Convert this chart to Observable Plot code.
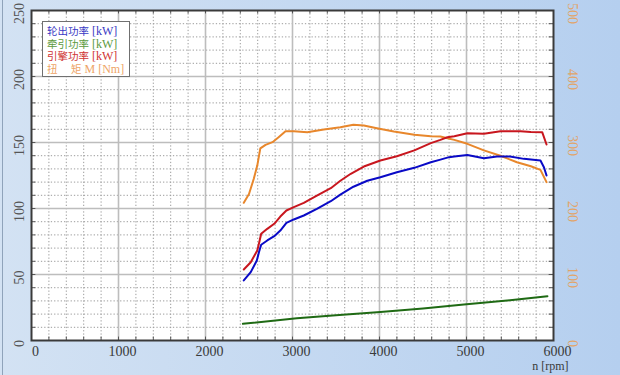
<!DOCTYPE html>
<html><head><meta charset="utf-8">
<script src="https://cdn.jsdelivr.net/npm/d3@7"></script>
<script src="https://cdn.jsdelivr.net/npm/@observablehq/plot@0.6"></script>
<style>
html,body{margin:0;padding:0;}
body{width:620px;height:375px;overflow:hidden;background:linear-gradient(to right,#d3e2f3,#b5cfef);position:relative;}
#chart{position:absolute;left:0;top:0;}
#legend{position:absolute;left:42px;top:21px;width:88px;height:56px;background:#fff;border:1px solid #707070;font-family:"Liberation Serif","Noto Sans CJK SC";font-size:12px;line-height:12.5px;padding:3px 0 0 4px;box-sizing:border-box;white-space:pre;}
#legend div{height:12.5px;overflow:visible;}
#legend .cjk{font-family:"Noto Sans CJK SC";font-size:10.5px;line-height:12px;}
#edge{position:absolute;left:2px;top:0;width:1px;height:375px;background:#8fa3ba;}
</style></head><body>
<div id="chart"></div><div id="legend"></div><div id="edge"></div>
<script>
// Wheel output power [kW]
const wheelRpm = [2440,2520,2590,2615,2640,2710,2790,2860,2930,3015,3130,3280,3440,3550,3700,3860,4010,4200,4400,4590,4700,4800,4860,5010,5200,5350,5500,5660,5850,5890,5920];
const wheelKw  = [45.5,51.8,60.6,67,72.5,75.8,79,83.3,89.1,91.7,94.7,99.7,105.5,110.5,116.5,121,123.7,127.5,130.8,135,137,138.9,139.4,140.6,138.1,139.4,139.4,137.6,136.4,131.3,125];
// Engine power [kW]
const engineRpm = [2440,2520,2595,2620,2640,2710,2790,2860,2930,3015,3130,3280,3440,3550,3670,3820,4010,4200,4400,4590,4700,4780,4860,5010,5200,5390,5620,5740,5870,5920];
const engineKw  = [53.8,59.3,68.2,75,80.8,84.6,88.4,93.9,98.5,101,104.3,109.8,115.4,121,126.3,131.8,136.4,139.6,144,149.5,152,154,154.8,157,156.6,158.6,158.6,158,157.8,148.5];
// Torque M [Nm]
const torqueRpm = [2440,2500,2555,2595,2630,2690,2770,2840,2920,3015,3170,3360,3550,3700,3820,3970,4165,4400,4590,4700,4780,4860,5010,5200,5390,5580,5740,5850,5920];
const torqueNm  = [208.6,222,245,265,291,296.5,300.5,308,317,317,315.6,319.7,323,326.8,325.8,321.7,316.7,311.6,309.6,309,306.5,304,298,288,280,270,264,258.6,240];
// Traction power [kW]
const tractionRpm = [2430,3050,3500,4010,4500,4970,5500,5930];
const tractionKw  = [12.6,16.9,19.2,21.5,24.3,27.3,30.5,33.6];

const xTicks = [0,1000,2000,3000,4000,5000,6000];
const yTicks = [0,50,100,150,200,250];
const torqueTicks = [0,100,200,300,400,500];
const legendLabels = ["轮出功率 [kW]","牵引功率 [kW]","引擎功率 [kW]","扭　 矩 M [Nm]"];
const legendColors = ["#3a3ac4","#5c9a3e","#d03434","#eea466"];
const xLabel = "n [rpm]";

const toRows = (xs, ys) => xs.map((x,i) => ({x, y: ys[i]}));
const wheel = toRows(wheelRpm, wheelKw);
const engine = toRows(engineRpm, engineKw);
const torque = toRows(torqueRpm, torqueNm);
const traction = toRows(tractionRpm, tractionKw);

const minorX = d3.range(0, 6001, 200);
const minorY = d3.range(0, 251, 10);
const majorX = xTicks.slice(1, -1);
const majorY = yTicks.slice(1, -1);
const serif = "Liberation Serif";

const chart = Plot.plot({
  width: 620, height: 375,
  marginLeft: 31, marginRight: 67, marginTop: 10, marginBottom: 35,
  style: {background: "transparent", fontFamily: serif, overflow: "visible"},
  x: {domain: [0, 6000], axis: null},
  y: {domain: [0, 250], axis: null},
  marks: [
    Plot.frame({fill: "#ffffff", stroke: "none"}),
    Plot.ruleX(minorX, {stroke: "#9c9c9c", strokeDasharray: "1.3,2", strokeWidth: 1}),
    Plot.ruleY(minorY, {stroke: "#9c9c9c", strokeDasharray: "1.3,2", strokeWidth: 1}),
    Plot.ruleX(majorX, {stroke: "#bdbdbd", strokeWidth: 1.6}),
    Plot.ruleY(majorY, {stroke: "#bdbdbd", strokeWidth: 1.6}),
    Plot.ruleX(minorX, {y1: 0, y2: 2.6, stroke: "#555"}),
    Plot.ruleX(minorX, {y1: 247.4, y2: 250, stroke: "#555"}),
    Plot.ruleY(minorY, {x1: 0, x2: 50, stroke: "#555"}),
    Plot.ruleY(minorY, {x1: 5950, x2: 6000, stroke: "#555"}),
    Plot.line(traction, {x: "x", y: "y", stroke: "#1f6a14", strokeWidth: 2}),
    Plot.line(torque, {x: "x", y: d => d.y / 2, stroke: "#e8872c", strokeWidth: 2}),
    Plot.line(engine, {x: "x", y: "y", stroke: "#c8161e", strokeWidth: 2}),
    Plot.line(wheel, {x: "x", y: "y", stroke: "#0a0ac6", strokeWidth: 2}),
    Plot.frame({stroke: "#3a3a3a", strokeWidth: 2}),
    Plot.text(xTicks, {x: d => d, text: d => String(d), frameAnchor: "bottom", textAnchor: "middle", lineAnchor: "middle", dx: 4, dy: 11, fontSize: 14, fontFamily: serif, fill: "#3a3a3a"}),
    Plot.text(yTicks, {y: d => d, text: d => String(d), frameAnchor: "left", textAnchor: "middle", lineAnchor: "middle", dx: -12, dy: 3, rotate: -90, fontSize: 14, fontFamily: serif, fill: "#555"}),
    Plot.text(torqueTicks, {y: d => d / 2, text: d => String(d), frameAnchor: "right", textAnchor: "middle", lineAnchor: "middle", dx: 19, dy: 3, rotate: 90, fontSize: 14, fontFamily: serif, fill: "#e2a468"}),
    Plot.text([xLabel], {text: d => d, frameAnchor: "bottom-right", textAnchor: "end", lineAnchor: "middle", dx: 15, dy: 26, fontSize: 12, fontFamily: serif, fill: "#3a3a3a"})
  ]
});
document.getElementById("chart").append(chart);

const legend = document.getElementById("legend");
legendLabels.forEach((t, i) => {
  const div = document.createElement("div");
  div.style.color = legendColors[i];
  for (const part of t.split(/([\u3000-\u9fff]+)/)) {
    if (!part) continue;
    if (/[\u3000-\u9fff]/.test(part)) {
      const s = document.createElement("span");
      s.className = "cjk";
      s.textContent = part;
      div.append(s);
    } else {
      div.append(document.createTextNode(part));
    }
  }
  legend.append(div);
});
</script>
</body></html>
